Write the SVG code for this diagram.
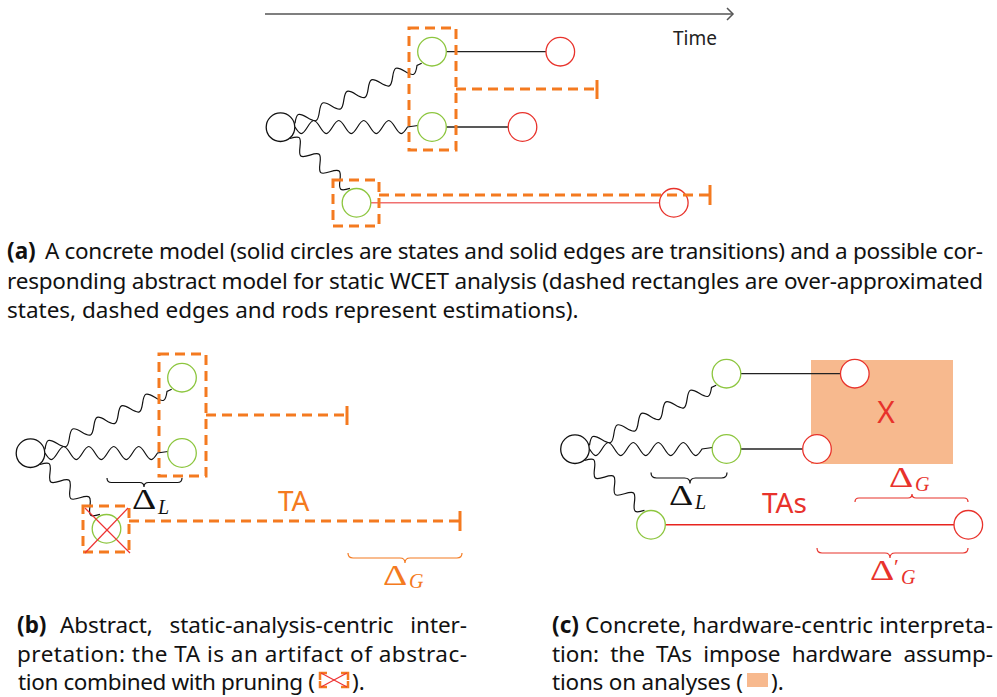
<svg xmlns="http://www.w3.org/2000/svg" width="997" height="697" viewBox="0 0 997 697">
<style>
.blk{fill:#fff;stroke:#111;stroke-width:1.3}
.gr{fill:#fff;stroke:#8dc63f;stroke-width:1.3}
.rd{fill:#fff;stroke:#e8322b;stroke-width:1.3}
.wave{fill:none;stroke:#111;stroke-width:1.2}
.edge{stroke:#222;stroke-width:1.3}
.est{fill:none;stroke:#f47a20;stroke-width:3;stroke-dasharray:10 6}
.rod{stroke:#f47a20;stroke-width:3}
.cap{font-family:"Noto Sans","Open Sans",sans-serif;font-size:22.5px;fill:#111}
.b{font-weight:bold}
.lbl{font-family:"Noto Sans","Open Sans",sans-serif}
.dl{font-family:"Liberation Serif","DejaVu Serif",serif;font-size:29px}
.sub{font-family:"Liberation Serif","DejaVu Serif",serif;font-style:italic;font-size:20px}
.brace{fill:none;stroke-width:1.2}
</style>
<defs>
  <!-- wavy (snake) transitions, drawn along the local x axis -->
  <path id="waveTop" d="M0,0 c5.72,-8.7 7.78,-8.7 13.5,0 s7.78,8.7 13.5,0 s7.78,-8.7 13.5,0 s7.78,8.7 13.5,0 s7.78,-8.7 13.5,0 s7.78,8.7 13.5,0 s7.78,-8.7 13.5,0 s7.78,8.7 13.5,0 s7.78,-8.7 13.5,0 s7.78,8.7 13.5,0 l5.2,0"/>
  <path id="waveMid" d="M0,0 c5.3,8.7 7.2,8.7 12.5,0 s7.2,-8.7 12.5,0 s7.2,8.7 12.5,0 s7.2,-8.7 12.5,0 s7.2,8.7 12.5,0 s7.2,-8.7 12.5,0 s7.2,8.7 12.5,0 s7.2,-8.7 12.5,0 s7.2,8.7 12.5,0 L123,-1.5"/>
  <path id="waveBot" d="M0,0 c5.51,-8.7 7.49,-8.7 13,0 s7.49,8.7 13,0 s7.49,-8.7 13,0 s7.49,8.7 13,0 s7.49,-8.7 13,0 s7.49,8.7 13,0"/>
</defs>

<!-- time axis -->
<g id="time-axis">
  <line x1="265" y1="14" x2="733" y2="14" stroke="#555" stroke-width="1.5"/>
  <polyline points="727,8 733,14 727,20" fill="none" stroke="#555" stroke-width="1.5"/>
  <text x="673" y="45" class="lbl" font-size="19" fill="#222">Time</text>
</g>

<!-- (a) concrete and abstract model -->
<g id="panel-a">
  <g id="a-connectors">
    <use href="#waveTop" class="wave" transform="translate(295,123.3) rotate(-25.35)"/>
    <use href="#waveMid" class="wave" transform="translate(295,127)"/>
    <use href="#waveBot" class="wave" transform="translate(290,138.5) rotate(39.8)"/>
    <line class="edge" x1="446.3" y1="51.7" x2="546" y2="51.7" stroke="#444"/>
    <line class="edge" x1="446.3" y1="127" x2="508.2" y2="127"/>
    <line x1="370.8" y1="202.8" x2="659.5" y2="202.8" stroke="#f07070" stroke-width="1.5"/>
  </g>
  <g id="a-root"><circle class="blk" cx="280.5" cy="127.2" r="14.3"/></g>
  <g id="a-s1"><circle class="gr" cx="432" cy="51.7" r="14.3"/></g>
  <g id="a-s2"><circle class="gr" cx="432" cy="127" r="14.3"/></g>
  <g id="a-s3"><circle class="gr" cx="356.5" cy="202.8" r="14.3"/></g>
  <g id="a-e1"><circle class="rd" cx="560.3" cy="51.7" r="14.3"/></g>
  <g id="a-e2"><circle class="rd" cx="522.5" cy="127" r="14.3"/></g>
  <g id="a-e3"><circle class="rd" cx="673.8" cy="202.8" r="14.3" fill="none"/></g>
  <g id="a-abs1"><rect class="est" x="409" y="28" width="47" height="122"/></g>
  <g id="a-abs2"><rect class="est" x="333" y="180" width="46" height="46"/></g>
  <g id="a-estimates">
    <line class="est" x1="456" y1="89" x2="597" y2="89"/>
    <line class="rod" x1="597" y1="80" x2="597" y2="99"/>
    <line class="est" x1="379" y1="195" x2="710" y2="195"/>
    <line class="rod" x1="710" y1="185" x2="710" y2="205"/>
  </g>
</g>

<!-- (b) abstract, static-analysis-centric view -->
<g id="panel-b">
  <g transform="translate(-250,326)">
    <g id="b-connectors">
      <use href="#waveTop" class="wave" transform="translate(295,123.3) rotate(-25.35)"/>
      <use href="#waveMid" class="wave" transform="translate(295,127)"/>
      <use href="#waveBot" class="wave" transform="translate(290,138.5) rotate(39.8)"/>
    </g>
    <g id="b-root"><circle class="blk" cx="280.5" cy="127.2" r="14.3"/></g>
    <g id="b-s1"><circle class="gr" cx="432" cy="51.7" r="14.3"/></g>
    <g id="b-s2"><circle class="gr" cx="432" cy="127" r="14.3"/></g>
    <g id="b-s3"><circle class="gr" cx="356.5" cy="202.8" r="14.3"/></g>
    <g id="b-abs1"><rect class="est" x="409" y="28" width="47" height="122"/></g>
    <g id="b-abs2"><rect class="est" x="333" y="180" width="46" height="46"/></g>
    <g id="b-estimates">
      <line class="est" x1="456" y1="89" x2="597" y2="89"/>
      <line class="rod" x1="597" y1="80" x2="597" y2="99"/>
      <line class="est" x1="379" y1="195" x2="710" y2="195"/>
      <line class="rod" x1="710" y1="185" x2="710" y2="205"/>
    </g>
  </g>
  <g id="b-pruned" stroke="#ee3333" stroke-width="1.2">
    <line x1="85" y1="508" x2="130" y2="553"/>
    <line x1="128" y1="508" x2="85" y2="553"/>
  </g>
  <g id="b-delta-l">
    <path class="brace" stroke="#111" d="M107,478 q0,4.5 4.5,4.5 H139.5 q4.5,0 4.5,4.5 q0,-4.5 4.5,-4.5 H177.5 q4.5,0 4.5,-4.5"/>
    <text class="dl" fill="#111" transform="translate(132,509) scale(1.3,1)">Δ</text>
    <text x="158" y="514" class="sub" fill="#111">L</text>
  </g>
  <text x="278" y="511" class="lbl" font-size="28" fill="#f47a20">TA</text>
  <g id="b-delta-g">
    <path class="brace" stroke="#f47a20" d="M348,553 q0,5 5,5 H400 q5,0 5,5 q0,-5 5,-5 H457 q5,0 5,-5"/>
    <text class="dl" fill="#f47a20" transform="translate(383,585) scale(1.3,1)">Δ</text>
    <text x="409" y="588" class="sub" fill="#f47a20">G</text>
  </g>
</g>

<!-- (c) concrete, hardware-centric view -->
<g id="panel-c">
  <g id="c-region"><rect x="811" y="360" width="142" height="104" fill="#f7b98e"/></g>
  <text x="886" y="423" class="lbl" font-size="30" fill="#e8322b" text-anchor="middle">X</text>
  <g transform="translate(294.5,322)">
    <g id="c-connectors">
      <use href="#waveTop" class="wave" transform="translate(295,123.3) rotate(-25.35)"/>
      <use href="#waveMid" class="wave" transform="translate(295,127)"/>
      <use href="#waveBot" class="wave" transform="translate(290,138.5) rotate(39.8)"/>
      <line class="edge" x1="446.3" y1="51.7" x2="546" y2="51.7"/>
      <line class="edge" x1="446.3" y1="127" x2="508.2" y2="127"/>
      <line x1="370.8" y1="202.8" x2="659.5" y2="202.8" stroke="#e8241f" stroke-width="1.4"/>
    </g>
    <g id="c-root"><circle class="blk" cx="280.5" cy="127.2" r="14.3"/></g>
    <g id="c-s1"><circle class="gr" cx="432" cy="51.7" r="14.3"/></g>
    <g id="c-s2"><circle class="gr" cx="432" cy="127" r="14.3"/></g>
    <g id="c-s3"><circle class="gr" cx="356.5" cy="202.8" r="14.3"/></g>
    <g id="c-e1"><circle class="rd" cx="560.3" cy="51.7" r="14.3"/></g>
    <g id="c-e2"><circle class="rd" cx="522.5" cy="127" r="14.3"/></g>
    <g id="c-e3"><circle class="rd" cx="673.8" cy="202.8" r="14.3"/></g>
  </g>
  <g id="c-delta-l">
    <path class="brace" stroke="#111" d="M651,472.5 q0,5.5 5.5,5.5 H684.5 q5.5,0 5.5,5.5 q0,-5.5 5.5,-5.5 H721.5 q5.5,0 5.5,-5.5"/>
    <text class="dl" fill="#111" transform="translate(669,505) scale(1.3,1)">Δ</text>
    <text x="695" y="509" class="sub" fill="#111">L</text>
  </g>
  <text x="762" y="513" class="lbl" font-size="28" fill="#e8322b">TAs</text>
  <g id="c-delta-g">
    <path class="brace" stroke="#e8322b" d="M855,502 q0,-4 4,-4 H908 q4,0 4,-4 q0,4 4,4 H964 q4,0 4,4"/>
    <text class="dl" fill="#e8322b" transform="translate(889,487) scale(1.3,1)">Δ</text>
    <text x="915" y="491" class="sub" fill="#e8322b">G</text>
  </g>
  <g id="c-delta-g2">
    <path class="brace" stroke="#e8322b" d="M817,548 q0,5 5,5 H885 q5,0 5,5 q0,-5 5,-5 H963 q5,0 5,-5"/>
    <text class="dl" fill="#e8322b" transform="translate(870,580) scale(1.3,1)">Δ</text>
    <text x="894" y="574" font-family="Liberation Serif, serif" font-size="22" fill="#e8322b">′</text>
    <text x="901" y="584" class="sub" fill="#e8322b">G</text>
  </g>
</g>

<!-- captions -->
<g id="caption-a">
  <text x="7" y="259" class="cap b">(a)</text>
  <text x="45" y="259" class="cap" textLength="938" lengthAdjust="spacing">A concrete model (solid circles are states and solid edges are transitions) and a possible cor-</text>
  <text x="7" y="289" class="cap" textLength="976" lengthAdjust="spacing">responding abstract model for static WCET analysis (dashed rectangles are over-approximated</text>
  <text x="7" y="318" class="cap">states, dashed edges and rods represent estimations).</text>
</g>
<g id="caption-b">
  <text x="17" y="633" class="cap b">(b)</text>
  <text x="60" y="633" class="cap" word-spacing="11" textLength="407" lengthAdjust="spacing">Abstract, static-analysis-centric inter-</text>
  <text x="17" y="662" class="cap" textLength="450" lengthAdjust="spacing">pretation: the TA is an artifact of abstrac-</text>
  <text x="18" y="690" class="cap" textLength="297" lengthAdjust="spacing">tion combined with pruning (</text>
  <g id="prune-icon">
    <path d="M320,680 V673 H327 M341,673 H348 V680 M348,681 V687 H341 M327,687 H320 V681" fill="none" stroke="#f47a20" stroke-width="2.5"/>
    <line x1="321" y1="673" x2="347" y2="687" stroke="#ee3333" stroke-width="1.2"/>
    <line x1="347" y1="673" x2="321" y2="687" stroke="#ee3333" stroke-width="1.2"/>
  </g>
  <text x="352" y="690" class="cap">).</text>
</g>
<g id="caption-c">
  <text x="552" y="633" class="cap b">(c)</text>
  <text x="585" y="633" class="cap" textLength="408" lengthAdjust="spacing">Concrete, hardware-centric interpreta-</text>
  <text x="552" y="662" class="cap" word-spacing="5.6" textLength="441" lengthAdjust="spacing">tion: the TAs impose hardware assump-</text>
  <text x="552" y="690" class="cap" textLength="191" lengthAdjust="spacing">tions on analyses (</text>
  <rect x="747" y="673" width="21" height="14" fill="#f7b98e"/>
  <text x="771" y="690" class="cap">).</text>
</g>
</svg>
